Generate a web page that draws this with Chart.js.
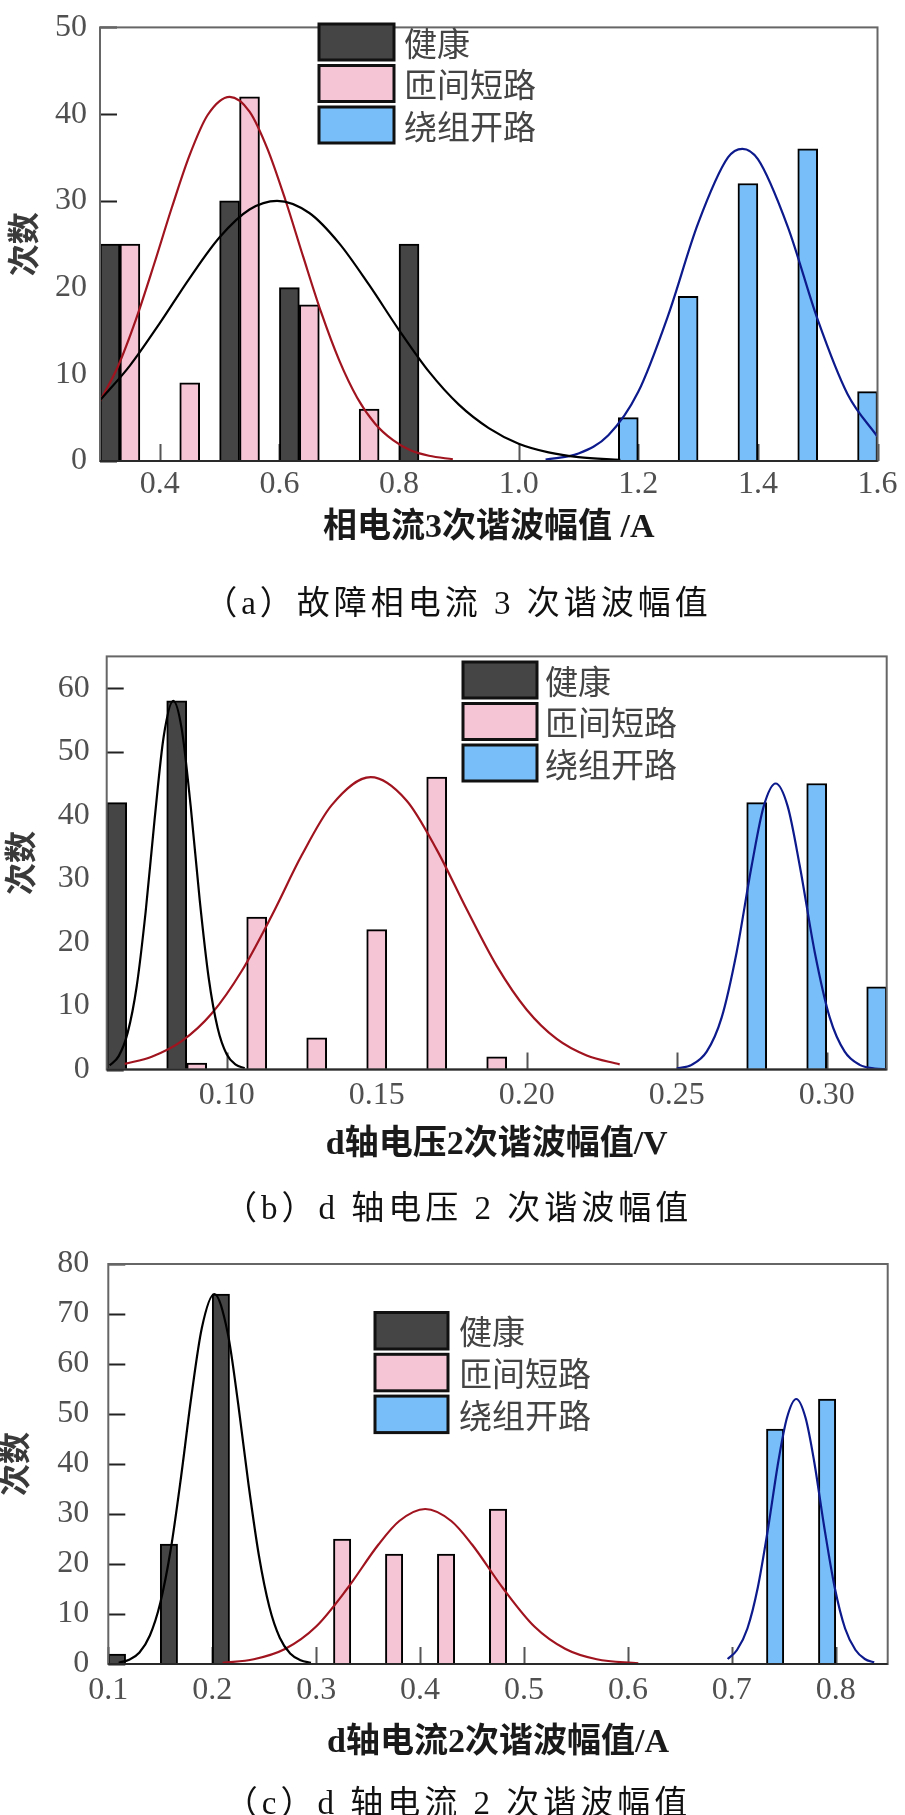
<!DOCTYPE html>
<html><head><meta charset="utf-8">
<script src="https://cdn.jsdelivr.net/npm/chart.js@4.4.1/dist/chart.umd.min.js"></script>
<style>
html,body{margin:0;padding:0;background:#fff;}
body{width:905px;height:1815px;position:relative;overflow:hidden;}
canvas{position:absolute;left:0;}
.cap{position:absolute;transform:translate(-50%,-50%);white-space:nowrap;font-size:33px;font-family:'Liberation Serif','Noto Sans CJK SC';letter-spacing:4px;color:#111;}
</style></head><body>
<canvas id="ca" width="905" height="625" style="top:0px;width:905px;height:625px"></canvas>
<canvas id="cb" width="905" height="600" style="top:625px;width:905px;height:600px"></canvas>
<canvas id="cc" width="905" height="590" style="top:1225px;width:905px;height:590px"></canvas>
<div class="cap" style="left:458px;top:600px">（a）故障相电流 3 次谐波幅值</div>
<div class="cap" style="left:458px;top:1205px">（b）d 轴电压 2 次谐波幅值</div>
<div class="cap" style="left:458px;top:1800px">（c）d 轴电流 2 次谐波幅值</div>
<script>
// ---------- data ----------
const seriesNames = ['健康', '匝间短路', '绕组开路'];
const yTitle = '次数';

// (a) 相电流3次谐波幅值
const xTitleA = '相电流3次谐波幅值 /A';
const binsA = [0.35, 0.45, 0.55, 0.65, 0.75, 0.85, 0.95, 1.05, 1.15, 1.25, 1.35, 1.45, 1.55];
const healthA = [25, null, 30, 20, null, 25, null, null, null, null, null, null, null];
const shortA  = [25, 9, 42, 18, 6, null, null, null, null, null, null, null, null];
const openA   = [null, null, null, null, null, null, null, null, 5, 19, 32, 36, 8];
const xTicksA = [0.4, 0.6, 0.8, 1.0, 1.2, 1.4, 1.6];
const yTicksA = [0, 10, 20, 30, 40, 50];
const fitHealthA = [[0.30,7.0],[0.35,11.0],[0.40,15.9],[0.45,21.1],[0.50,25.8],[0.55,29.0],[0.596,30.0],[0.65,28.6],[0.70,25.1],[0.75,20.3],[0.80,15.1],[0.85,10.3],[0.90,6.5],[0.95,3.8],[1.00,2.0],[1.05,1.0],[1.10,0.45],[1.17,0.13]];
const fitShortA = [[0.30,6.9],[0.33,10.9],[0.36,16.3],[0.39,22.6],[0.42,29.2],[0.45,35.3],[0.48,39.9],[0.517,42.0],[0.55,40.3],[0.58,36.0],[0.61,30.1],[0.64,23.5],[0.67,17.1],[0.70,11.6],[0.73,7.3],[0.76,4.3],[0.79,2.4],[0.82,1.2],[0.85,0.6],[0.89,0.2]];
const fitOpenA = [[1.045,0.17],[1.10,0.86],[1.15,2.97],[1.20,7.98],[1.25,16.8],[1.30,27.4],[1.35,35.0],[1.374,36.0],[1.40,34.8],[1.45,27.0],[1.50,16.3],[1.55,7.7],[1.60,2.8]];

// (b) d轴电压2次谐波幅值
const xTitleB = 'd轴电压2次谐波幅值/V';
const binsB = [0.07, 0.09, 0.11, 0.13, 0.15, 0.17, 0.19, 0.21, 0.23, 0.25, 0.27, 0.29, 0.31];
const healthB = [42, 58, null, null, null, null, null, null, null, null, null, null, null];
const shortB  = [null, 1, 24, 5, 22, 46, 2, null, null, null, null, null, null];
const openB   = [null, null, null, null, null, null, null, null, null, null, 42, 45, 13];
const xTicksB = [0.10, 0.15, 0.20, 0.25, 0.30];
const yTicksB = [0, 10, 20, 30, 40, 50, 60];
const fitHealthB = [[0.061,0.65],[0.064,2.1],[0.067,5.8],[0.070,13.1],[0.073,24.9],[0.076,39.5],[0.079,52.4],[0.0822,58.0],[0.085,53.6],[0.088,41.4],[0.091,26.7],[0.094,14.4],[0.097,6.5],[0.100,2.4],[0.103,0.76],[0.106,0.2]];
const fitShortB = [[0.066,0.88],[0.075,2.0],[0.085,4.45],[0.095,8.8],[0.105,15.5],[0.115,24.2],[0.125,33.7],[0.135,41.6],[0.148,46.0],[0.160,42.3],[0.170,34.6],[0.180,25.2],[0.190,16.3],[0.200,9.4],[0.210,4.8],[0.220,2.2],[0.231,0.8]];
const fitOpenB = [[0.250,0.15],[0.255,0.73],[0.260,2.8],[0.265,8.2],[0.270,18.5],[0.275,32.1],[0.279,41.4],[0.283,45.0],[0.287,41.4],[0.291,32.1],[0.296,18.5],[0.301,8.2],[0.306,2.8],[0.311,0.73],[0.316,0.15],[0.320,0.03]];

// (c) d轴电流2次谐波幅值
const xTitleC = 'd轴电流2次谐波幅值/A';
const binsC = [0.125, 0.175, 0.225, 0.275, 0.325, 0.375, 0.425, 0.475, 0.525, 0.575, 0.625, 0.675, 0.725, 0.775, 0.825];
const healthC = [2, 24, 74, null, null, null, null, null, null, null, null, null, null, null, null];
const shortC  = [null, null, null, null, 25, 22, 22, 31, null, null, null, null, null, null, null];
const openC   = [null, null, null, null, null, null, null, null, null, null, null, null, 47, 53, null];
const xTicksC = [0.1, 0.2, 0.3, 0.4, 0.5, 0.6, 0.7, 0.8];
const yTicksC = [0, 10, 20, 30, 40, 50, 60, 70, 80];
const fitHealthC = [[0.110,0.26],[0.120,0.84],[0.130,2.3],[0.140,5.7],[0.150,12.2],[0.160,22.8],[0.170,37.4],[0.180,53.6],[0.190,67.2],[0.202,74.0],[0.215,66.1],[0.225,52.0],[0.235,35.8],[0.245,21.6],[0.255,11.4],[0.265,5.25],[0.275,2.1],[0.285,0.75],[0.295,0.23]];
const fitShortC = [[0.21,0.24],[0.24,0.95],[0.27,3.0],[0.30,7.5],[0.33,15.1],[0.36,23.9],[0.38,28.6],[0.405,31.0],[0.43,28.6],[0.45,23.9],[0.48,15.1],[0.51,7.5],[0.54,3.0],[0.57,0.95],[0.61,0.14]];
const fitOpenC = [[0.696,1.0],[0.705,2.8],[0.715,7.1],[0.725,15.3],[0.735,27.3],[0.745,40.8],[0.753,49.2],[0.762,53.0],[0.771,49.2],[0.779,40.8],[0.789,27.3],[0.799,15.3],[0.809,7.1],[0.819,2.8],[0.828,1.0],[0.837,0.32]];

// ---------- styles ----------
const barColors = ['#454545', '#F6C5D5', '#78BEF8'];
const lineColors = ['#000000', '#A0141F', '#0C1A8C'];
const SERIF = "'Liberation Serif', 'Noto Sans CJK SC'";
Chart.defaults.font.family = SERIF;

const frameTicks = {
  id: 'frameTicks',
  beforeDatasetsDraw(chart, args, o) {
    const {ctx, chartArea: a, scales: {x, y}} = chart;
    ctx.save();
    ctx.lineWidth = 2;
    ctx.strokeStyle = '#555';
    ctx.beginPath();
    x.ticks.forEach(t => { const px = Math.round(x.getPixelForValue(t.value)) + 0.5; ctx.moveTo(px, a.bottom); ctx.lineTo(px, a.bottom - o.len); });
    ctx.stroke();
    ctx.strokeStyle = '#222';
    ctx.beginPath();
    y.ticks.forEach(t => { const py = Math.round(y.getPixelForValue(t.value)) + 0.5; ctx.moveTo(a.left, py); ctx.lineTo(a.left + o.len, py); });
    ctx.stroke();
    ctx.restore();
  },
  afterDatasetsDraw(chart) {
    const {ctx, chartArea: a} = chart;
    ctx.save();
    ctx.lineWidth = 2;
    ctx.strokeStyle = '#666';
    ctx.strokeRect(a.left, a.top, a.right - a.left, a.bottom - a.top);
    ctx.strokeStyle = '#2a2a2a';
    ctx.beginPath(); ctx.moveTo(a.left, a.bottom); ctx.lineTo(a.right, a.bottom); ctx.stroke();
    ctx.restore();
  }
};

const boxLegend = {
  id: 'boxLegend',
  afterDraw(chart, args, o) {
    const ctx = chart.ctx;
    const bars = chart.data.datasets.filter(d => d.type === 'bar');
    ctx.save();
    bars.forEach((d, i) => {
      const y = o.y + i * o.rowH;
      ctx.fillStyle = d.backgroundColor;
      ctx.fillRect(o.x, y, o.w, o.h);
      ctx.lineWidth = 3;
      ctx.strokeStyle = '#111';
      ctx.strokeRect(o.x, y, o.w, o.h);
      ctx.fillStyle = '#444';
      ctx.font = "33px 'Noto Sans CJK SC'";
      ctx.textBaseline = 'middle';
      ctx.textAlign = 'left';
      ctx.fillText(d.label, o.tx, y + o.h / 2 + 1);
    });
    ctx.restore();
  }
};

function makeChart(id, c) {
  const datasets = [];
  c.bars.forEach((vals, i) => datasets.push({
    type: 'bar', label: seriesNames[i],
    data: c.bins.map((b, k) => ({x: b, y: vals[k]})),
    backgroundColor: barColors[i], borderColor: '#000', borderWidth: 2,
    barPercentage: 1, categoryPercentage: 1, order: 2
  }));
  c.fits.forEach((pts, i) => datasets.push({
    type: 'line', label: 'fit' + i,
    data: pts.map(p => ({x: p[0], y: p[1]})),
    borderColor: lineColors[i], borderWidth: 2.2, pointRadius: 0,
    cubicInterpolationMode: 'monotone', fill: false, order: 1
  }));
  return new Chart(document.getElementById(id), {
    type: 'bar',
    data: {datasets},
    options: {
      responsive: false, animation: false, devicePixelRatio: 1,
      layout: {padding: c.pad},
      plugins: {
        legend: {display: false}, tooltip: {enabled: false},
        boxLegend: c.legend, frameTicks: {len: 17}
      },
      scales: {
        x: {
          type: 'linear', min: c.xMin, max: c.xMax, offset: false,
          grid: {display: false, drawTicks: false, offset: false}, border: {display: false},
          afterBuildTicks: s => { s.ticks = c.xTicks.map(v => ({value: v})); },
          afterFit: s => { s.height = c.xH; },
          ticks: {autoSkip: false, maxRotation: 0, minRotation: 0, padding: c.xTickPad, color: '#505050',
                  font: {family: 'Liberation Serif', size: 32, lineHeight: 1},
                  callback: v => Number(v).toFixed(c.dec)},
          title: {display: true, text: c.xTitle, color: '#1a1a1a',
                  font: {family: SERIF, size: 34, weight: 'bold', lineHeight: 1.2},
                  padding: {top: 0, bottom: c.xTitlePad}}
        },
        y: {
          type: 'linear', min: 0, max: c.yMax,
          grid: {display: false, drawTicks: false}, border: {display: false},
          afterBuildTicks: s => { s.ticks = c.yTicks.map(v => ({value: v})); },
          afterFit: s => { s.width = c.yW; },
          ticks: {padding: c.yTickPad, color: '#505050',
                  font: {family: 'Liberation Serif', size: 32, lineHeight: 0.9},
                  callback: v => String(v)},
          title: {display: true, text: yTitle, color: '#3a3a3a',
                  font: {family: SERIF, size: 32, weight: 'bold', lineHeight: 1},
                  padding: {top: c.yTitlePad, bottom: 0}}
        }
      }
    },
    plugins: [frameTicks, boxLegend]
  });
}

makeChart('ca', {
  bins: binsA, bars: [healthA, shortA, openA], fits: [fitHealthA, fitShortA, fitOpenA],
  xMin: 0.3, xMax: 1.6, yMax: 50, xTicks: xTicksA, yTicks: yTicksA, dec: 1, xTitle: xTitleA,
  pad: {left: 0, top: 15, right: 25, bottom: 74}, yW: 100, xH: 90,
  xTickPad: 7.5, xTitlePad: 2.6, yTickPad: 13, yTitlePad: 10.7,
  legend: {x: 319, y: 24, w: 75, h: 36, rowH: 41.5, tx: 404}
});
makeChart('cb', {
  bins: binsB, bars: [healthB, shortB, openB], fits: [fitHealthB, fitShortB, fitOpenB],
  xMin: 0.06, xMax: 0.32, yMax: 65, xTicks: xTicksB, yTicks: yTicksB, dec: 2, xTitle: xTitleB,
  pad: {left: 0, top: 20.7, right: 18.3, bottom: 55.5}, yW: 106.7, xH: 100,
  xTickPad: 10, xTitlePad: 4.1, yTickPad: 17, yTitlePad: 8,
  legend: {x: 463, y: 37, w: 74, h: 36, rowH: 41.5, tx: 545}
});
makeChart('cc', {
  bins: binsC, bars: [healthC, shortC, openC], fits: [fitHealthC, fitShortC, fitOpenC],
  xMin: 0.1, xMax: 0.85, yMax: 80, xTicks: xTicksC, yTicks: yTicksC, dec: 1, xTitle: xTitleC,
  pad: {left: 0, top: 39, right: 17.3, bottom: 51}, yW: 108.3, xH: 100,
  xTickPad: 10.5, xTitlePad: 0.6, yTickPad: 19, yTitlePad: 2,
  legend: {x: 375, y: 87.5, w: 73, h: 36.5, rowH: 41.8, tx: 459}
});
</script>
</body></html>
